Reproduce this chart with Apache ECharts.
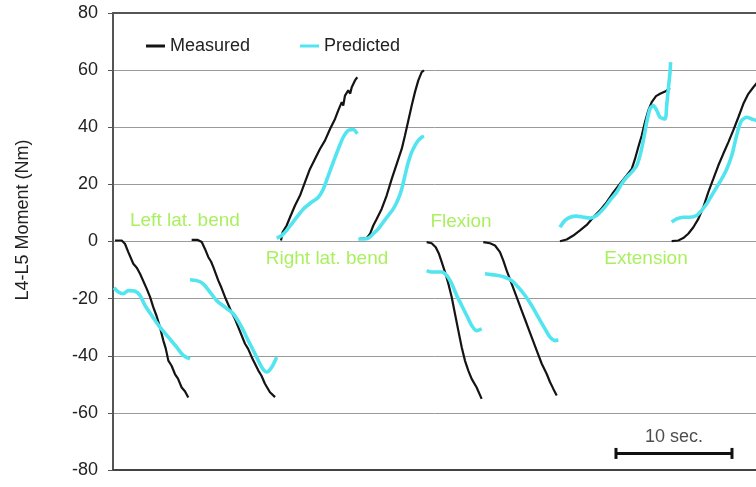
<!DOCTYPE html>
<html><head><meta charset="utf-8">
<script src="https://cdn.jsdelivr.net/npm/echarts@6/dist/echarts.min.js"></script>
<style>html,body{margin:0;padding:0;background:#fff}#c{width:756px;height:487px}</style>
</head><body><div id="c"></div>
<script>
// y axis ticks (Nm)
const yTicks = [-80, -60, -40, -20, 0, 20, 40, 60, 80];
// time axis span (seconds) visible in the picture
const timeMax = 55.43;

// Measured moment segments [time s, moment Nm]
const measLeft1 = [[0.17,0.35],[0.75,0.35],[1.03,-0.8],[1.32,-3.7],[1.75,-7.8],[2.05,-9.2],[2.33,-11.3],[2.91,-16.6],[3.2,-19.5],[3.47,-23.0],[3.75,-26.0],[4.05,-30.0],[4.34,-34.7],[4.55,-37.5],[4.77,-41.7],[5.05,-43.5],[5.34,-46.4],[5.6,-48.0],[5.92,-51.1],[6.2,-52.4],[6.49,-54.6]];
const measLeft2 = [[6.78,0.6],[7.27,0.6],[7.65,-0.2],[7.93,-2.6],[8.22,-5.5],[8.45,-7.0],[8.65,-9.0],[9.08,-13.7],[9.35,-16.2],[9.66,-19.5],[10.23,-24.8],[10.5,-27.0],[10.8,-30.0],[11.38,-35.8],[11.65,-37.6],[11.96,-40.5],[12.53,-45.2],[12.8,-47.0],[13.1,-49.8],[13.53,-52.8],[13.97,-54.5]];
const measRight1 = [[14.48,0.35],[14.63,3.3],[14.97,5.6],[15.26,8.5],[15.69,12.6],[16.12,16.1],[16.55,20.8],[16.98,25.4],[17.41,28.9],[17.84,32.4],[18.28,35.4],[18.71,39.4],[19.14,42.9],[19.42,45.9],[19.72,48.8],[19.85,47.6],[20.0,51.1],[20.28,52.9],[20.45,51.8],[20.58,54.0],[20.86,56.4],[21.06,57.5]];
const measRight2 = [[21.29,0.9],[21.87,1.2],[22.16,2.7],[22.44,5.6],[22.73,7.9],[23.16,11.4],[23.59,16.1],[24.03,21.9],[24.46,27.2],[24.89,32.4],[25.17,37.1],[25.46,42.4],[25.75,47.6],[26.03,52.3],[26.32,56.4],[26.61,59.3],[26.81,59.9]];
const measFlex1 = [[27.04,-0.2],[27.47,-0.6],[27.82,-2.0],[28.1,-4.3],[28.34,-7.2],[28.62,-10.7],[28.91,-14.8],[29.2,-19.5],[29.48,-25.3],[29.77,-31.2],[30.06,-37.0],[30.34,-41.7],[30.63,-45.2],[30.92,-48.1],[31.35,-51.1],[31.78,-55.1]];
const measFlex2 = [[31.92,-0.2],[32.5,-0.6],[32.93,-1.4],[33.36,-3.7],[33.65,-6.7],[33.94,-10.2],[34.37,-14.8],[34.8,-19.5],[35.23,-24.2],[35.66,-28.8],[36.09,-33.5],[36.53,-38.2],[36.96,-42.8],[37.39,-46.4],[37.67,-49.2],[37.96,-51.6],[38.25,-53.9]];
const measExt1 = [[38.53,0.1],[39.11,0.7],[39.68,2.1],[40.26,3.9],[40.84,5.8],[41.41,8.5],[41.98,10.9],[42.56,13.8],[43.13,17.2],[43.71,20.2],[44.28,23.1],[44.72,25.4],[45.0,28.9],[45.28,33.0],[45.58,37.1],[45.86,41.8],[46.15,45.9],[46.44,48.8],[46.81,50.9],[47.16,51.7],[47.59,52.5],[48.02,53.7]];
const measExt2 = [[48.16,0.1],[48.73,0.35],[49.16,1.2],[49.59,2.7],[50.03,5.0],[50.46,7.9],[50.89,12.0],[51.32,17.3],[51.75,21.9],[52.18,26.6],[52.61,30.7],[53.05,34.8],[53.47,38.9],[53.91,43.5],[54.34,48.2],[54.77,51.7],[55.2,54.0],[55.6,56.0]];

// Predicted moment segments [time s, moment Nm]
const predLeft1 = [[0.09,-16.2],[0.46,-17.7],[0.89,-18.3],[1.32,-17.2],[1.9,-17.4],[2.33,-18.9],[2.76,-22.4],[3.34,-25.9],[4.05,-30.0],[4.77,-33.5],[5.49,-37.0],[6.06,-39.9],[6.64,-41.1]];
const predLeft2 = [[6.64,-13.4],[7.22,-13.7],[7.78,-14.8],[8.36,-17.7],[8.94,-20.7],[9.66,-23.0],[10.37,-25.3],[11.09,-30.0],[11.66,-34.7],[12.24,-39.3],[12.82,-44.0],[13.25,-45.7],[13.68,-44.0],[14.11,-40.5]];
const predRight1 = [[14.11,1.2],[14.54,2.1],[14.97,3.9],[15.41,6.2],[15.84,8.5],[16.41,11.4],[17.13,13.8],[17.7,15.5],[18.13,18.4],[18.56,23.1],[18.99,27.8],[19.42,32.4],[19.85,36.5],[20.28,38.9],[20.72,39.2],[21.06,37.7]];
const predRight2 = [[21.15,0.9],[21.58,0.9],[22.01,1.2],[22.44,2.7],[22.87,4.4],[23.3,6.8],[23.73,9.1],[24.16,11.4],[24.59,14.9],[24.89,18.4],[25.17,23.1],[25.46,27.8],[25.75,31.3],[26.03,33.6],[26.32,35.4],[26.61,36.5],[26.81,36.9]];
const predFlex1 = [[27.04,-10.2],[27.47,-10.7],[27.91,-10.7],[28.34,-10.7],[28.77,-11.9],[29.2,-14.8],[29.63,-18.9],[30.06,-22.4],[30.49,-25.9],[30.92,-29.4],[31.35,-31.2],[31.78,-30.6]];
const predFlex2 = [[32.07,-11.3],[32.65,-11.6],[33.22,-11.9],[33.79,-12.5],[34.37,-13.7],[34.94,-16.0],[35.52,-18.9],[36.09,-22.4],[36.66,-26.5],[37.24,-30.6],[37.67,-33.5],[38.1,-34.7],[38.39,-34.4]];
const predExt1 = [[38.53,5.0],[38.97,7.4],[39.4,8.5],[39.97,8.9],[40.54,8.5],[41.12,8.2],[41.7,9.1],[42.27,11.4],[42.84,14.4],[43.42,17.3],[43.85,20.2],[44.28,22.5],[44.72,24.3],[45.15,26.6],[45.43,30.1],[45.72,35.4],[46.01,41.8],[46.29,46.4],[46.58,47.6],[46.87,45.9],[47.16,43.5],[47.59,42.9],[47.73,47.6],[47.87,53.4],[48.02,59.3],[48.07,62.8]];
const predExt2 = [[48.16,6.8],[48.59,7.9],[49.16,8.5],[49.74,8.5],[50.32,9.1],[50.75,10.9],[51.18,13.2],[51.61,16.1],[52.04,19.0],[52.47,21.9],[52.91,25.4],[53.34,30.1],[53.62,34.8],[53.91,39.4],[54.2,42.4],[54.63,43.5],[55.06,42.9],[55.43,42.4],[55.78,41.3]];

// Movement annotations [label, time s, moment Nm]
const movementLabels = [['Left lat. bend',6.2,7.35],['Right lat. bend',18.45,-5.95],['Flexion',30.0,6.9],['Extension',45.95,-5.95]];
// 10-second scale bar
const scaleBar = [[43.36,-74.2],[53.36,-74.2]];
const scaleText = ['10 sec.', 48.36, -68.6];

const measured = [measLeft1, measLeft2, measRight1, measRight2, measFlex1, measFlex2, measExt1, measExt2];
const predicted = [predLeft1, predLeft2, predRight1, predRight2, predFlex1, predFlex2, predExt1, predExt2];

const FONT = '"Liberation Sans", Arial, sans-serif';
const series = [];
measured.forEach(seg => series.push({
  name: 'Measured', type: 'line', data: seg, showSymbol: false, symbol: 'none',
  lineStyle: { color: '#141414', width: 2.2 }, itemStyle: { color: '#141414' }, z: 3, animation: false
}));
predicted.forEach(seg => series.push({
  name: 'Predicted', type: 'line', data: seg, showSymbol: false, symbol: 'none', smooth: 0.25,
  lineStyle: { color: '#52e5ef', width: 3.6 }, itemStyle: { color: '#52e5ef' }, z: 4, animation: false
}));
series.push({
  type: 'scatter', symbolSize: 0, silent: true, animation: false,
  data: movementLabels.map(d => ({ name: d[0], value: [d[1], d[2]] })),
  label: { show: true, position: 'inside', formatter: p => p.name, color: '#94ec36', fontSize: 19, fontFamily: FONT }
});
series.push({
  type: 'line', data: scaleBar, symbol: 'rect', symbolSize: [3, 11], showSymbol: true, silent: true, animation: false,
  lineStyle: { color: '#111', width: 3 }, itemStyle: { color: '#111' }
});
series.push({
  type: 'scatter', symbolSize: 0, silent: true, animation: false,
  data: [{ name: scaleText[0], value: [scaleText[1], scaleText[2]] }],
  label: { show: true, position: 'inside', formatter: p => p.name, color: '#222', fontSize: 18, fontFamily: FONT }
});

const chart = echarts.init(document.getElementById('c'), null, { renderer: 'canvas' });
chart.setOption({
  animation: false,
  backgroundColor: '#fff',
  grid: { left: 113, right: 0, top: 13, bottom: 17, containLabel: false },
  legend: {
    data: ['Measured', 'Predicted'], left: 141, top: 32, icon: 'rect', itemWidth: 19, itemHeight: 3,
    itemGap: 50, textStyle: { fontSize: 18, color: '#222', fontFamily: FONT, padding: [0, 0, 0, 0] }
  },
  xAxis: [
    { type: 'value', min: 0, max: timeMax, position: 'bottom',
      axisLine: { show: true, onZero: false, lineStyle: { color: '#444', width: 2 } },
      axisTick: { show: false }, axisLabel: { show: false }, splitLine: { show: false } },
    { type: 'value', min: 0, max: timeMax, position: 'top',
      axisLine: { show: true, onZero: false, lineStyle: { color: '#555', width: 2 } },
      axisTick: { show: false }, axisLabel: { show: false }, splitLine: { show: false } }
  ],
  yAxis: {
    type: 'value', min: yTicks[0], max: yTicks[yTicks.length - 1], interval: 20,
    axisLine: { show: true, onZero: false, lineStyle: { color: '#555', width: 2 } },
    axisTick: { show: true, length: 5, lineStyle: { color: '#555', width: 1 } },
    axisLabel: { margin: 15, fontSize: 18, color: '#222', fontFamily: FONT },
    splitLine: { show: true, lineStyle: { color: '#9a9a9a', width: 1 } }
  },
  graphic: [
    { type: 'text', x: 23, y: 220, rotation: Math.PI / 2,
      style: { text: 'L4-L5 Moment (Nm)', font: '18px ' + FONT, fill: '#222', textAlign: 'center', textVerticalAlign: 'middle' } }
  ],
  series: series
});
</script>
</body></html>
